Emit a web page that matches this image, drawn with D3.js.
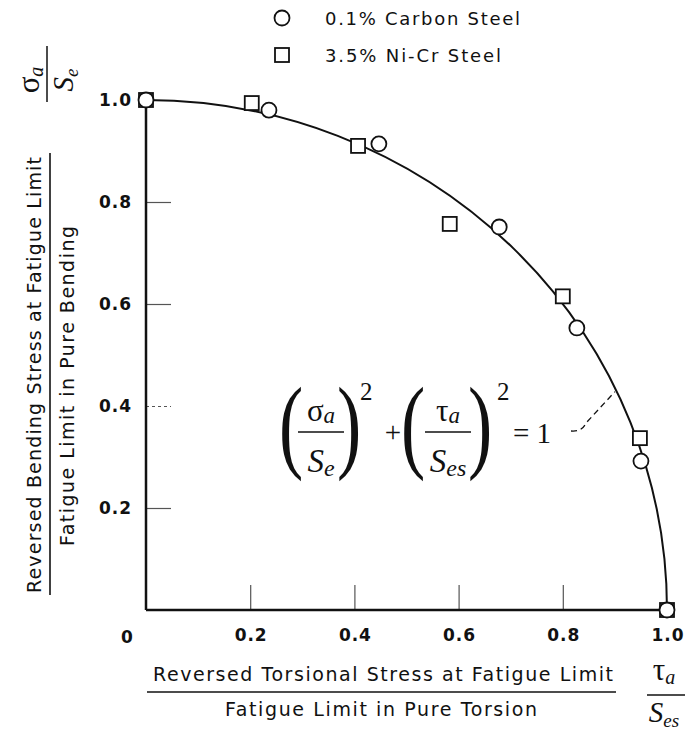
<!DOCTYPE html>
<html>
<head>
<meta charset="utf-8">
<script src="https://cdn.jsdelivr.net/npm/d3@7"></script>
<style>
  body { margin: 0; background: #fff; }
  text { font-family: "DejaVu Sans", "Liberation Sans", Arial, sans-serif; fill: #111; }
  .serif { font-family: "Liberation Serif", "Times New Roman", serif; }
</style>
</head>
<body>
<div id="chart"></div>
<script>
// Data
const carbonX = [0, 0.236, 0.447, 0.678, 0.827, 0.95, 1.0];
const carbonY = [1.0, 0.98, 0.914, 0.751, 0.553, 0.292, 0.0];
const nicrX = [0, 0.203, 0.407, 0.583, 0.80, 0.948, 1.0];
const nicrY = [1.0, 0.994, 0.91, 0.757, 0.615, 0.337, 0.0];
const xTicks = [0.2, 0.4, 0.6, 0.8, 1.0];
const yTicks = [0.2, 0.4, 0.6, 0.8, 1.0];
const legendLabels = ["0.1% Carbon Steel", "3.5% Ni-Cr Steel"];

const W = 687, H = 731;

const svg = d3.select("#chart")
  .append("svg")
  .attr("width", W)
  .attr("height", H);

const x = d3.scaleLinear().domain([0, 1]).range([146, 667]);
const y = d3.scaleLinear().domain([0, 1]).range([610, 100]);

// ticks (pointing inward)
const xAxis = svg.append("g")
  .attr("transform", "translate(0," + y(0) + ")")
  .call(d3.axisBottom(x).tickValues(xTicks).tickSize(-25).tickPadding(19)
    .tickFormat(d3.format(".1f")));
const yAxis = svg.append("g")
  .attr("transform", "translate(" + x(0) + ",0)")
  .call(d3.axisLeft(y).tickValues(yTicks).tickSize(-25).tickPadding(15)
    .tickFormat(d3.format(".1f")));

[xAxis, yAxis].forEach(g => {
  g.select(".domain").remove();
  g.selectAll(".tick line").attr("stroke", "#555").attr("stroke-width", 1.2)
    .filter(d => d === 1.0).remove();
  g.selectAll(".tick text")
    .style("font-family", "'DejaVu Sans', Arial, sans-serif")
    .style("font-size", "17px").style("font-weight", "bold").attr("fill", "#111")
    .attr("textLength", 32).attr("lengthAdjust", "spacing");
});
yAxis.selectAll(".tick line").filter(d => d === 0.4).attr("stroke-dasharray", "3,3");

svg.append("text")
  .attr("x", x(0) - 19).attr("y", y(0) + 33)
  .attr("text-anchor", "middle")
  .style("font-size", "17px").style("font-weight", "bold")
  .text("0");

// axis lines
svg.append("line")
  .attr("x1", x(0)).attr("x2", x(1)).attr("y1", y(0)).attr("y2", y(0))
  .attr("stroke", "#111").attr("stroke-width", 2.5);
svg.append("line")
  .attr("x1", x(0)).attr("x2", x(0)).attr("y1", y(0)).attr("y2", y(1))
  .attr("stroke", "#111").attr("stroke-width", 2.5);

// (sa/Se)^2 + (ta/Ses)^2 = 1 -> elliptical arc between (0,1) and (1,0)
const rx = x(1) - x(0), ry = y(0) - y(1);
svg.append("path")
  .attr("d", "M" + x(0) + "," + y(1) + " A" + rx + "," + ry + " 0 0 1 " + x(1) + "," + y(0))
  .attr("fill", "none").attr("stroke", "#111").attr("stroke-width", 2);

// markers
const nicr = nicrX.map((v, i) => ({ x: v, y: nicrY[i] }));
const carbon = carbonX.map((v, i) => ({ x: v, y: carbonY[i] }));
const sq = 14;

svg.selectAll("rect.nicr")
  .data(nicr)
  .enter()
  .append("rect")
  .attr("class", "nicr")
  .attr("x", d => x(d.x) - sq / 2)
  .attr("y", d => y(d.y) - sq / 2)
  .attr("width", sq).attr("height", sq)
  .attr("fill", "#fff").attr("stroke", "#111").attr("stroke-width", 1.8);

svg.selectAll("circle.carbon")
  .data(carbon)
  .enter()
  .append("circle")
  .attr("class", "carbon")
  .attr("cx", d => x(d.x))
  .attr("cy", d => y(d.y))
  .attr("r", 7.5)
  .attr("fill", "#fff").attr("stroke", "#111").attr("stroke-width", 1.8);

// legend
const legendWidths = [195, 176];
const legend = svg.append("g").attr("transform", "translate(282,18)");
legendLabels.forEach((lab, i) => {
  const g = legend.append("g").attr("transform", "translate(0," + i * 37 + ")");
  if (i === 0) {
    g.append("circle").attr("r", 7.5).attr("fill", "#fff").attr("stroke", "#111").attr("stroke-width", 1.8);
  } else {
    g.append("rect").attr("x", -7).attr("y", -7).attr("width", 14).attr("height", 14)
      .attr("fill", "#fff").attr("stroke", "#111").attr("stroke-width", 1.8);
  }
  g.append("text").attr("x", 43).attr("y", 6.5)
    .style("font-size", "18px")
    .attr("textLength", legendWidths[i]).attr("lengthAdjust", "spacing")
    .text(lab);
});

// y axis title (two lines with a fraction bar)
const yt = svg.append("g").attr("transform", "translate(0,375) rotate(-90)");
yt.append("text").attr("x", 0).attr("y", 41).attr("text-anchor", "middle")
  .style("font-size", "19px").attr("textLength", 436).attr("lengthAdjust", "spacing")
  .text("Reversed Bending Stress at Fatigue Limit");
yt.append("line").attr("x1", -220).attr("x2", 222).attr("y1", 50).attr("y2", 50)
  .attr("stroke", "#111").attr("stroke-width", 1.6);
yt.append("text").attr("x", -11).attr("y", 74).attr("text-anchor", "middle")
  .style("font-size", "19px").attr("textLength", 320).attr("lengthAdjust", "spacing")
  .text("Fatigue Limit in Pure Bending");

// sigma_a / S_e rotated at top of y axis
const ys = svg.append("g").attr("transform", "translate(0,74) rotate(-90)");
ys.append("text").attr("class", "serif").attr("x", -6).attr("y", 39).attr("text-anchor", "middle")
  .style("font-size", "31px").html("σ<tspan font-style='italic' font-size='20px' dy='4'>a</tspan>");
ys.append("line").attr("x1", -28).attr("x2", 28).attr("y1", 47).attr("y2", 47)
  .attr("stroke", "#111").attr("stroke-width", 1.5);
ys.append("text").attr("class", "serif").attr("x", -6).attr("y", 73).attr("text-anchor", "middle")
  .style("font-size", "29px").html("<tspan font-style='italic'>S</tspan><tspan font-style='italic' font-size='19px' dy='5'>e</tspan>");

// x axis title
svg.append("text").attr("x", 383).attr("y", 681).attr("text-anchor", "middle")
  .style("font-size", "19px").attr("textLength", 460).attr("lengthAdjust", "spacing")
  .text("Reversed Torsional Stress at Fatigue Limit");
svg.append("line").attr("x1", 147).attr("x2", 616).attr("y1", 692).attr("y2", 692)
  .attr("stroke", "#111").attr("stroke-width", 1.6);
svg.append("text").attr("x", 381).attr("y", 716).attr("text-anchor", "middle")
  .style("font-size", "19px").attr("textLength", 312).attr("lengthAdjust", "spacing")
  .text("Fatigue Limit in Pure Torsion");

// tau_a / S_es at right
svg.append("text").attr("class", "serif").attr("x", 664).attr("y", 680).attr("text-anchor", "middle")
  .style("font-size", "31px").html("τ<tspan font-style='italic' font-size='20px' dy='4'>a</tspan>");
svg.append("line").attr("x1", 647).attr("x2", 685).attr("y1", 695).attr("y2", 695)
  .attr("stroke", "#111").attr("stroke-width", 1.5);
svg.append("text").attr("class", "serif").attr("x", 664).attr("y", 722).attr("text-anchor", "middle")
  .style("font-size", "29px").html("<tspan font-style='italic'>S</tspan><tspan font-style='italic' font-size='19px' dy='5'>es</tspan>");

// equation
const eq = svg.append("g").attr("transform", "translate(291,432)");
function paren(px, ch) {
  eq.append("text").attr("class", "serif")
    .attr("transform", "translate(" + px + ",0) scale(0.7,1)")
    .attr("y", 27).attr("text-anchor", "middle")
    .style("font-size", "104px").text(ch);
}
function frac(cx, top, topSub, botSub) {
  eq.append("text").attr("class", "serif").attr("x", cx).attr("y", -11).attr("text-anchor", "middle")
    .style("font-size", "31px").html(top + "<tspan font-style='italic' font-size='23px' dy='2'>" + topSub + "</tspan>");
  eq.append("line").attr("x1", cx - 23).attr("x2", cx + 23).attr("y1", 0).attr("y2", 0)
    .attr("stroke", "#111").attr("stroke-width", 1.3);
  eq.append("text").attr("class", "serif").attr("x", cx).attr("y", 40).attr("text-anchor", "middle")
    .style("font-size", "33px").html("<tspan font-style='italic'>S</tspan><tspan font-style='italic' font-size='24px' dy='4'>" + botSub + "</tspan>");
}
paren(0, "(");
frac(30, "σ", "a", "e");
paren(58, ")");
eq.append("text").attr("class", "serif").attr("x", 69).attr("y", -32).style("font-size", "25px").text("2");
eq.append("text").attr("class", "serif").attr("x", 102).attr("y", 10).attr("text-anchor", "middle").style("font-size", "29px").text("+");
paren(122, "(");
frac(157, "τ", "a", "es");
paren(189, ")");
eq.append("text").attr("class", "serif").attr("x", 206).attr("y", -32).style("font-size", "25px").text("2");
eq.append("text").attr("class", "serif").attr("x", 222).attr("y", 11).style("font-size", "29px").text("= 1");

// dashed leader from "=1" to the curve
svg.append("path")
  .attr("d", "M" + 571 + "," + 431 + " Q" + 582 + "," + 432 + " " + 586 + "," + 423 + " L" + x(0.9) + "," + (y(Math.sqrt(1 - 0.81)) + 4))
  .attr("fill", "none").attr("stroke", "#111").attr("stroke-width", 1.3).attr("stroke-dasharray", "6,4");
</script>
</body>
</html>
